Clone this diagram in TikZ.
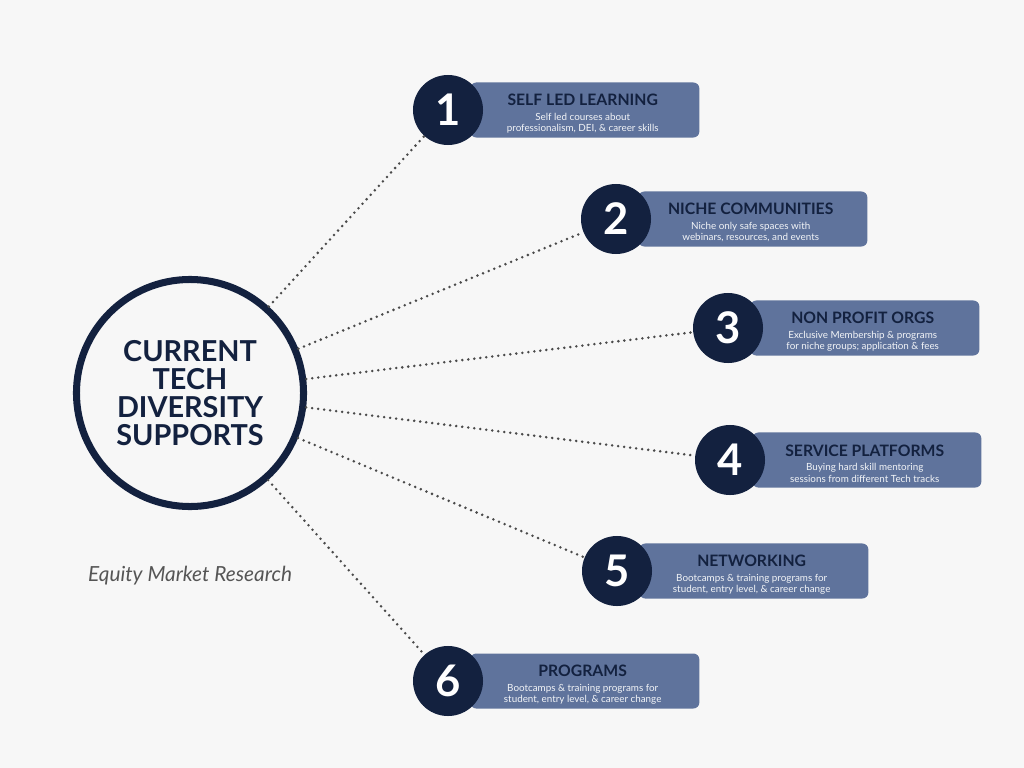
\documentclass[tikz,border=0pt]{standalone}
\usepackage{fontspec}
\setmainfont{Lato}
\definecolor{navy}{HTML}{13213F}
\definecolor{slate}{HTML}{5F739C}
\definecolor{paper}{HTML}{F7F7F7}
\definecolor{dotgray}{HTML}{4A4A4A}
\definecolor{notegray}{HTML}{555555}
\tikzset{
  hub/.style={circle, draw=navy, line width=5pt, minimum size=5.675cm,
    align=center, text=navy,
    font=\fontsize{20.5}{19.8}\selectfont\bfseries},
  numcirc/.style={circle, fill=navy, minimum size=1.75cm, inner sep=0pt,
    text=white, font=\fontsize{31}{31}\selectfont\bfseries},
  infobox/.style={rectangle, rounded corners=0.15cm, fill=slate,
    minimum width=5.725cm, minimum height=1.375cm, anchor=west},
  boxtext/.style={align=center, inner sep=0pt, text=white!92!slate,
    font=\fontsize{7}{8}\selectfont},
  dotline/.style={dotgray, line width=2pt, line cap=round,
    dash pattern=on 0pt off 4.3pt},
  note/.style={text=notegray, font=\fontsize{14.8}{17}\selectfont\itshape}
}
\begin{document}
\begin{tikzpicture}[x=0.025cm, y=-0.025cm]
\def\boxOff{22}
\useasboundingbox (0,0) rectangle (1024,768);
\fill[paper] (0,0) rectangle (1024,768);
\node[hub] (hub) at (190,393) {CURRENT\\TECH\\DIVERSITY\\SUPPORTS};
\node[note] (note) at (190,576) {Equity Market Research};
\foreach \i/\cx/\cy/\head/\desc in {
    1/448/110/{SELF LED LEARNING}/{Self led courses about\\professionalism, DEI, \& career skills},
    2/616/219/{NICHE COMMUNITIES}/{Niche only safe spaces with\\webinars, resources, and events},
    3/728/328/{NON PROFIT ORGS}/{Exclusive Membership \& programs\\for niche groups; application \& fees},
    4/730/460/{SERVICE PLATFORMS}/{Buying hard skill mentoring\\sessions from different Tech tracks},
    5/617/571/{NETWORKING}/{Bootcamps \& training programs for\\student, entry level, \& career change},
    6/448/681/{PROGRAMS}/{Bootcamps \& training programs for\\student, entry level, \& career change}} {
    \node[infobox] (box\i) at (\cx+\boxOff,\cy) {};
    \node[boxtext] (txt\i) at ([xshift=-1.5pt, yshift=-2.5pt]box\i.center)
        {{\fontsize{11.2}{12}\selectfont\bfseries\textcolor{navy}{\head}}\\[2.5pt]\desc};
    \node[numcirc] (num\i) at (\cx,\cy) {\i};
    \draw[dotline] (hub) -- (num\i);
}
\end{tikzpicture}
\end{document}
